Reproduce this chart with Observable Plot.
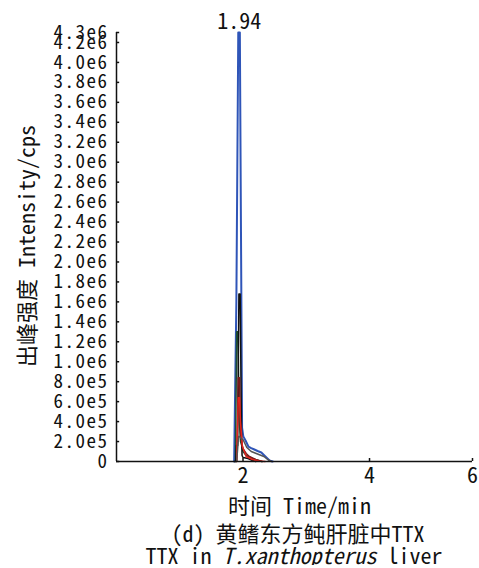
<!DOCTYPE html>
<html>
<head>
<meta charset="utf-8">
<script src="https://cdn.jsdelivr.net/npm/d3@7"></script>
<script src="https://cdn.jsdelivr.net/npm/@observablehq/plot@0.6"></script>
<style>
  html, body { margin: 0; padding: 0; background: #fff; }
  #chart svg { display: block; }
  .cap { font-family: "Noto Sans Mono CJK SC", "Liberation Mono", monospace; font-size: 22px; line-height: 22px; height: 22px; color: #111; text-align: center; width: 356px; margin-left: 116px; white-space: nowrap; }
  .ytick text { font-size: 19px; letter-spacing: 1.5px; }
</style>
</head>
<body>
<div id="chart"></div>
<div class="cap" style="position:relative;left:4px;">(d) 黄鳍东方鲀肝脏中TTX</div>
<div class="cap">TTX in <i>T.xanthopterus</i> liver</div>
<script>
const xTicks = [2, 4, 6];
const yTicks = [0, 2e5, 4e5, 6e5, 8e5, 1.0e6, 1.2e6, 1.4e6, 1.6e6, 1.8e6, 2.0e6, 2.2e6, 2.4e6, 2.6e6, 2.8e6, 3.0e6, 3.2e6, 3.4e6, 3.6e6, 3.8e6, 4.0e6, 4.2e6, 4.3e6];
const peakLabel = "1.94";
const peakTime = 1.94;
const peakValue = 4.3e6;

// Blue trace (highest)
const blueT = [1.86, 1.895, 1.925, 1.95, 1.968, 1.985, 2.005, 2.04, 2.085, 2.13, 2.18, 2.23, 2.29, 2.33, 2.37, 2.42, 2.47];
const blueV = [0, 1.6e6, 4.3e6, 4.3e6, 2.3e6, 3.4e5, 2.5e5, 2.1e5, 1.5e5, 1.35e5, 1.2e5, 1.05e5, 9e4, 6.5e4, 4e4, 1e4, 0];
// Dark green trace
const greenT = [1.88, 1.9, 1.92, 1.94, 1.96, 1.98, 2.0, 2.05, 2.15, 2.3];
const greenV = [0, 1.3e6, 1.3e6, 4.2e5, 2.0e5, 1.6e5, 1.0e5, 6e4, 3e4, 0];
// Black trace
const blackT = [1.86, 1.885, 1.895, 1.915, 1.935, 1.955, 1.975, 1.985, 2.0, 2.08, 2.15, 2.2];
const blackV = [0, 0, 1.6e5, 1.6e5, 1.68e6, 1.68e6, 3.6e5, 6e4, 4e4, 3e4, 1e4, 0];
// Maroon trace
const maroonT = [1.9, 1.925, 1.945, 1.96, 1.98, 2.0, 2.05, 2.1, 2.2, 2.3];
const maroonV = [0, 8.4e5, 8.4e5, 3.0e5, 1.8e5, 1.3e5, 8e4, 5e4, 2e4, 0];
// Red trace
const redT = [1.9, 1.925, 1.945, 1.96, 1.99, 2.0, 2.05, 2.15, 2.25, 2.35];
const redV = [0, 6.4e5, 6.4e5, 4.0e5, 1.5e5, 1.35e5, 5e4, 2e4, 5e3, 0];
// Gray trace
const grayT = [1.9, 1.93, 1.95, 1.97, 2.0, 2.06, 2.13, 2.25, 2.33, 2.4, 2.45];
const grayV = [0, 2.5e5, 2.5e5, 2.3e5, 2.2e5, 1.4e5, 1.0e5, 7e4, 5e4, 1.5e4, 0];

const series = [
  {t: blueT, v: blueV, color: "#2f55b8", w: 2},
  {t: greenT, v: greenV, color: "#1d4e32", w: 1.5},
  {t: blackT, v: blackV, color: "#111111", w: 1.5},
  {t: maroonT, v: maroonV, color: "#7a1b1b", w: 1.5},
  {t: redT, v: redV, color: "#e3241d", w: 1.5},
  {t: grayT, v: grayV, color: "#555555", w: 1.5}
];

const font = '"Noto Sans Mono CJK SC", "Liberation Mono", monospace';
const fmt = d => d === 0 ? "0" : d.toExponential(1).replace("+", "");

// The printed time axis is stretched unevenly (2→4 wider than 4→6): piecewise warp
const warp = d3.scaleLinear().domain([0, 4, 6]).range([0, 4, 5.628]);
const xMax = warp(6);

const lineMarks = series.map(s => Plot.line(s.t.map((t, i) => ({t, v: s.v[i]})), {x: d => warp(d.t), y: "v", stroke: s.color, strokeWidth: s.w}));

const chart = Plot.plot({
  width: 479,
  height: 521,
  marginTop: 32,
  marginBottom: 60,
  marginLeft: 116,
  marginRight: 7,
  style: {fontFamily: font, fontSize: "22px", color: "#111", background: "#fff"},
  x: {domain: [0, xMax], range: [116, 472], axis: null},
  y: {domain: [0, 4.3e6], range: [461, 32]},
  marks: [
    ...lineMarks,
    Plot.ruleX([0], {y1: 0, y2: 4.3e6, stroke: "#111", strokeWidth: 1.5}),
    Plot.ruleY([0], {x1: 0, x2: xMax, stroke: "#111", strokeWidth: 1.5}),
    Plot.ruleY(yTicks, {y: d => d, x1: 0, x2: 0.05, stroke: "#111", strokeWidth: 1.5}),
    Plot.ruleX(xTicks, {x: d => warp(d), y1: 0, y2: 3e4, stroke: "#111", strokeWidth: 1.5}),
    Plot.axisY({ticks: yTicks, tickSize: 0, tickPadding: 8, tickFormat: fmt, label: null, className: "ytick"}),
    Plot.text(xTicks, {x: d => warp(d), text: d => String(d), frameAnchor: "bottom", lineAnchor: "top", dy: 6}),
    Plot.text(["出峰强度 Intensity/cps"], {text: d => d, frameAnchor: "left", textAnchor: "middle", lineAnchor: "middle", rotate: -90, dx: -89, dy: -1}),
    Plot.text(["时间 Time/min"], {text: d => d, frameAnchor: "bottom", textAnchor: "middle", lineAnchor: "middle", dy: 45.5, dx: 5}),
    Plot.text([peakLabel], {text: d => d, x: () => warp(peakTime), y: () => peakValue, dy: -11})
  ]
});
document.getElementById("chart").appendChild(chart);
</script>
</body>
</html>
